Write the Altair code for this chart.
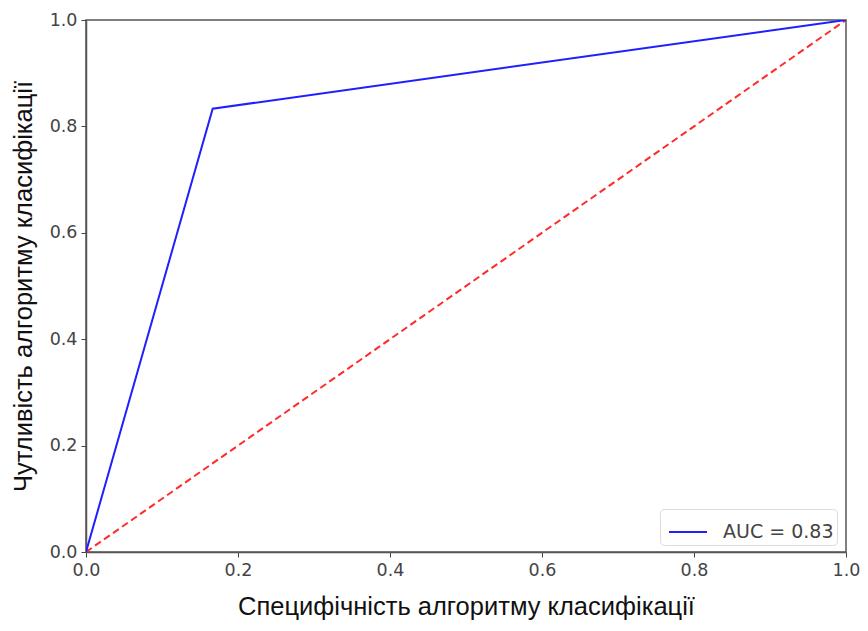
import altair as alt
import pandas as pd

fpr = [0.0, 0.1667, 1.0]
tpr = [0.0, 0.8333, 1.0]
diag_x = [0.0, 1.0]
diag_y = [0.0, 1.0]
legend_label = "AUC = 0.83"
tick_values = [0.0, 0.2, 0.4, 0.6, 0.8, 1.0]

roc = pd.DataFrame({"x": fpr, "y": tpr, "series": [legend_label] * len(fpr), "order": list(range(len(fpr)))})
diag = pd.DataFrame({"x": diag_x, "y": diag_y})

xs = alt.Scale(domain=[0, 1], nice=False, zero=False)
ys = alt.Scale(domain=[0, 1], nice=False, zero=False)

x_axis = alt.Axis(title="Специфічність алгоритму класифікації", values=tick_values,
                  format=".1f", grid=False, titlePadding=16, labelFlush=False)
y_axis = alt.Axis(title="Чутливість алгоритму класифікації", values=tick_values,
                  format=".1f", grid=False, titlePadding=13, labelFlush=False)

diag_line = alt.Chart(diag).mark_line(color="#ff2a2a", strokeDash=[7, 4], strokeWidth=2, clip=True).encode(
    x=alt.X("x:Q", scale=xs, axis=x_axis),
    y=alt.Y("y:Q", scale=ys, axis=y_axis),
)

roc_line = alt.Chart(roc).mark_line(strokeWidth=2, clip=True).encode(
    x=alt.X("x:Q", scale=xs),
    y=alt.Y("y:Q", scale=ys),
    order="order:Q",
    color=alt.Color("series:N", scale=alt.Scale(domain=[legend_label], range=["#2020ff"]),
                    legend=alt.Legend(title=None, orient="none", legendX=574, legendY=489,
                                      symbolType="stroke", symbolSize=1444, symbolStrokeWidth=2,
                                      symbolOffset=5,
                                      labelFontSize=19, labelFont="DejaVu Sans", labelColor="#444",
                                      fillColor="white", strokeColor="#ddd", cornerRadius=4,
                                      padding=3, labelOffset=15)),
)

chart = (diag_line + roc_line).properties(
    width=760, height=532,
    autosize=alt.AutoSizeParams(type="none"),
    padding={"left": 78, "top": 12, "right": 14, "bottom": 71},
).configure_view(
    stroke="#555", strokeWidth=1.5
).configure_axis(
    labelFont="DejaVu Sans", labelFontSize=17.5, labelColor="#444",
    titleFont="Liberation Sans", titleFontSize=25.5, titleFontWeight="normal", titleColor="#111",
    tickColor="#444", tickSize=5, domainColor="#555", domainWidth=1.5, labelPadding=4,
)

chart.save("out.html", embed_options={"renderer": "svg", "actions": False})
